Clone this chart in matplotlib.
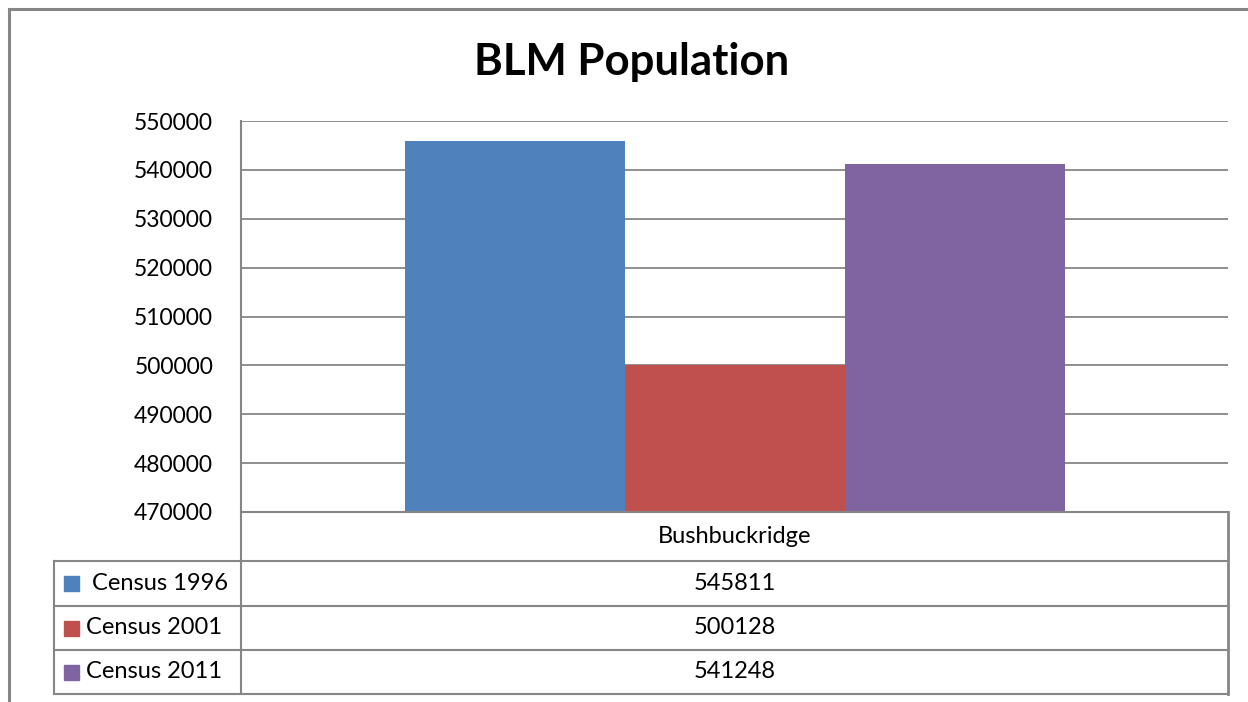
import matplotlib.pyplot as plt
from matplotlib.lines import Line2D
from matplotlib.patches import Rectangle

plt.rcParams['font.family'] = ['Lato', 'DejaVu Sans']

# data
category = 'Bushbuckridge'
series = ['Census 1996', 'Census 2001', 'Census 2011']
values = [545811, 500128, 541248]
colors = ['#4F81BD', '#C0504D', '#8064A2']
yticks = list(range(470000, 550001, 10000))

W, H = 1248, 702
fig = plt.figure(figsize=(W / 100, H / 100), dpi=100)

def fx(px):
    return px / W

def fy(py):
    return 1 - py / H

grid_c = '#868686'

# plot area
left, right, top, bottom = 241, 1228, 121, 512
ax = fig.add_axes([fx(left), fy(bottom), fx(right - left), (bottom - top) / H])
bw = 220 / 987
xs = [-bw, 0, bw]
for x, v, c in zip(xs, values, colors):
    ax.bar(x, v - 470000, bottom=470000, width=bw, color=c, zorder=3)
ax.set_xlim(-0.5, 0.5)
ax.set_ylim(470000, 550000)
ax.set_yticks(yticks)
ax.set_yticklabels([str(t) for t in yticks], fontsize=16.5)
ax.yaxis.grid(True, color=grid_c, linewidth=1.3, zorder=0)
ax.tick_params(axis='y', length=0, pad=20)
ax.set_xticks([])
for s in ['top', 'right', 'bottom']:
    ax.spines[s].set_visible(False)
ax.spines['left'].set_color(grid_c)
ax.spines['left'].set_linewidth(1.5)

def hline(x0, x1, y, lw=1.5):
    fig.add_artist(Line2D([fx(x0), fx(x1)], [fy(y), fy(y)], color=grid_c, linewidth=lw))

def vline(x, y0, y1, lw=1.5):
    fig.add_artist(Line2D([fx(x), fx(x)], [fy(y0), fy(y1)], color=grid_c, linewidth=lw))

# data table
rows = [512, 561, 606, 650, 694]
hline(left, right, rows[0])
for y in rows[1:]:
    hline(54, right, y)
vline(left, rows[0], rows[-1])
vline(right, rows[0], rows[-1], lw=2)
vline(54, rows[1], rows[-1])

fig.text(fx((left + right) / 2), fy((rows[0] + rows[1]) / 2), category,
         ha='center', va='center', fontsize=17)
for i, (s, v, c) in enumerate(zip(series, values, colors)):
    yc = (rows[i + 1] + rows[i + 2]) / 2
    fig.add_artist(Rectangle((fx(64), fy(yc + 7.5)), 15 / W, 15 / H,
                             transform=fig.transFigure, color=c))
    tx = 92 if i == 0 else 86
    fig.text(fx(tx), fy(yc), s, ha='left', va='center', fontsize=17)
    fig.text(fx((left + right) / 2), fy(yc), str(v), ha='center', va='center', fontsize=17)

# title
fig.text(fx(632), fy(62), 'BLM Population', ha='center', va='center',
         fontsize=31.5, fontweight='bold')

# outer chart border
hline(9, W, 9, lw=2.2)
vline(9, 9, H, lw=2.2)

fig.savefig('out.png', dpi=100)
